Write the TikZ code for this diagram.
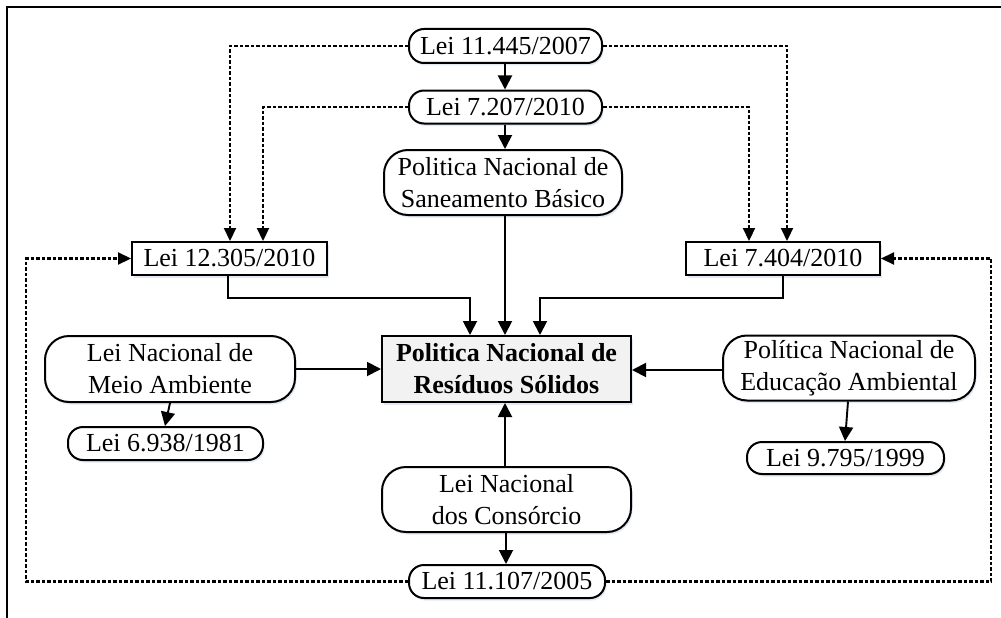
\documentclass[tikz,border=0pt]{standalone}
\usepackage{fontspec}
\setmainfont{Liberation Serif}
\usetikzlibrary{arrows.meta,shadows}
\definecolor{shade}{RGB}{190,205,230}
\definecolor{mainfill}{RGB}{242,242,242}
\tikzset{
  base/.style={draw=black, line width=2pt, fill=white, align=center,
    inner sep=0pt, font=\fontsize{26}{32}\selectfont,
    drop shadow={shadow xshift=1.5pt, shadow yshift=-2.5pt, fill=shade, opacity=0.45}},
  pill/.style={base, rounded corners=15pt},
  bigpill/.style={base, rounded corners=24pt},
  lawbox/.style={base},
  mainbox/.style={base, fill=mainfill, font=\fontsize{26}{32}\selectfont\bfseries},
  link/.style={line width=1.9pt, -{Triangle[width=14pt,length=14pt]}},
  reflink/.style={line width=2.2pt, dash pattern=on 3.5pt off 2pt, -{Triangle[width=12pt,length=13pt]}}
}
\begin{document}
\begin{tikzpicture}[x=1pt,y=-1pt]
\useasboundingbox (0,0) rectangle (1001,618);
% page frame (top and left edges)
\draw[line width=1.8pt] (7,618) -- (7,7) -- (1001,7);

% nodes
\node[pill, minimum width=193pt, minimum height=34pt] (l11445) at (505.5,46) {Lei 11.445/2007};
\node[pill, minimum width=193pt, minimum height=33pt] (l7207) at (505.5,107) {Lei 7.207/2010};
\node[bigpill, minimum width=238pt, minimum height=65pt] (pnsb) at (503,182.5) {Politica Nacional de\\Saneamento Básico};
\node[lawbox, minimum width=195pt, minimum height=33pt] (l12305) at (229.5,258.5) {Lei 12.305/2010};
\node[lawbox, minimum width=194pt, minimum height=33pt] (l7404) at (783,258.5) {Lei 7.404/2010};
\node[mainbox, minimum width=249pt, minimum height=66pt] (pnrs) at (506.5,369) {Politica Nacional de\\Resíduos Sólidos};
\node[bigpill, minimum width=250pt, minimum height=66pt] (lnma) at (170,369) {Lei Nacional de\\Meio Ambiente};
\node[bigpill, minimum width=252pt, minimum height=65pt] (pnea) at (849,368) {Política Nacional de\\Educação Ambiental};
\node[pill, minimum width=195pt, minimum height=33pt] (l6938) at (165.5,443.5) {Lei 6.938/1981};
\node[pill, minimum width=197pt, minimum height=32pt] (l9795) at (845.5,458) {Lei 9.795/1999};
\node[bigpill, minimum width=249pt, minimum height=65pt] (lnc) at (506.5,499.5) {Lei Nacional\\dos Consórcio};
\node[pill, minimum width=196pt, minimum height=33pt] (l11107) at (507,581.5) {Lei 11.107/2005};

% solid connectors
\draw[link] (l11445.south -| 505,0) -- (l7207.north -| 505,0);
\draw[link] (l7207.south -| 505,0) -- (pnsb.north -| 505,0);
\draw[link] (pnsb.south -| 505,0) -- (pnrs.north -| 505,0);
\draw[link] (l12305.south -| 228,0) |- (470,298) -- (pnrs.north -| 470,0);
\draw[link] (l7404.south -| 783,0) |- (540,298) -- (pnrs.north -| 540,0);
\draw[link] (lnma.east) -- (pnrs.west);
\draw[link] (pnea.west |- 0,370) -- (pnrs.east |- 0,370);
\draw[link] (lnma.south -| 170,0) -- (l6938.north -| 165,0);
\draw[link] (pnea.south -| 848,0) -- (l9795.north -| 845,0);
\draw[link] (lnc.north -| 505,0) -- (pnrs.south -| 505,0);
\draw[link] (lnc.south -| 506,0) -- (l11107.north -| 506,0);

% dotted reference connectors
\coordinate (tl1) at (230,46);
\coordinate (tr1) at (787,46);
\coordinate (tl2) at (263,107);
\coordinate (tr2) at (749,107);
\coordinate (bl) at (26,581.5);
\coordinate (br) at (991,581.5);
\draw[reflink] (l11445.west) -- (tl1) -- (l12305.north -| tl1);
\draw[reflink] (l11445.east) -- (tr1) -- (l7404.north -| tr1);
\draw[reflink] (l7207.west) -- (tl2) -- (l12305.north -| tl2);
\draw[reflink] (l7207.east) -- (tr2) -- (l7404.north -| tr2);
\draw[reflink] (l11107.west) -- (bl) |- (l12305.west);
\draw[reflink] (l11107.east) -- (br) |- (l7404.east);
\end{tikzpicture}
\end{document}
